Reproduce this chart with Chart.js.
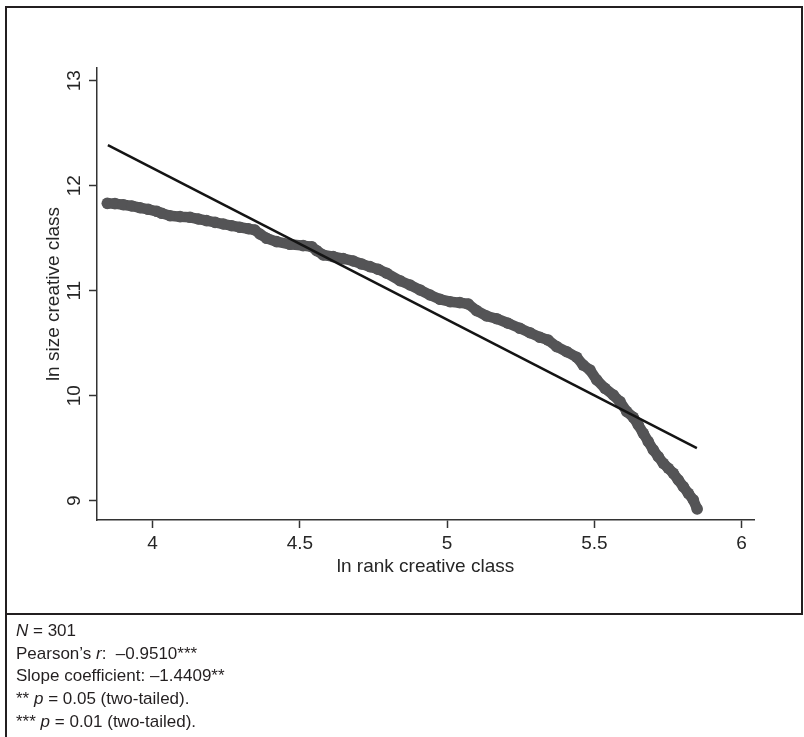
<!DOCTYPE html>
<html><head><meta charset="utf-8">
<script src="https://cdn.jsdelivr.net/npm/chart.js@4.4.1/dist/chart.umd.min.js"></script>
<style>
html,body{margin:0;padding:0;background:#fff;}
#wrap{position:relative;width:804px;height:737px;overflow:hidden;background:#fff;}
#c{position:absolute;left:0;top:0;}
.box{position:absolute;left:5px;top:6px;width:794px;height:605px;border:2px solid #231f20;}
.vline{position:absolute;left:5px;top:613px;width:2px;height:124px;background:#231f20;}
.notes{position:absolute;left:16px;top:620px;font-family:"Liberation Sans",Arial,sans-serif;font-size:17px;line-height:22.7px;color:#231f20;white-space:pre;}
</style></head>
<body>
<div id="wrap">
<canvas id="c" width="804" height="613"></canvas>
<div class="box"></div>
<div class="vline"></div>
<div class="notes"><i>N</i> = 301
Pearson’s <i>r</i>:  –0.9510***
Slope coefficient: –1.4409**
** <i>p</i> = 0.05 (two-tailed).
*** <i>p</i> = 0.01 (two-tailed).</div>
</div>
<script>
// ln rank creative class (x) and ln size creative class (y)
const lnRank = [3.846,3.872,3.900,3.929,3.957,3.985,4.014,4.031,4.059,4.093,4.127,4.155,4.183,4.212,4.240,4.268,4.296,4.325,4.347,4.364,4.387,4.421,4.466,4.511,4.540,4.557,4.579,4.613,4.647,4.681,4.710,4.738,4.766,4.795,4.840,4.874,4.908,4.942,4.976,5.010,5.043,5.072,5.100,5.134,5.168,5.207,5.247,5.281,5.315,5.343,5.372,5.406,5.440,5.462,5.485,5.508,5.536,5.564,5.587,5.610,5.632,5.649,5.666,5.683,5.700,5.717,5.734,5.751,5.768,5.785,5.802,5.819,5.836,5.849];
const lnSize = [11.832,11.829,11.819,11.807,11.790,11.775,11.756,11.737,11.714,11.705,11.699,11.683,11.667,11.651,11.635,11.619,11.604,11.590,11.578,11.540,11.499,11.467,11.442,11.429,11.419,11.381,11.340,11.324,11.305,11.283,11.254,11.229,11.204,11.166,11.095,11.054,11.007,10.959,10.918,10.895,10.886,10.873,10.810,10.759,10.733,10.690,10.642,10.600,10.556,10.530,10.467,10.419,10.366,10.292,10.245,10.150,10.070,10.007,9.943,9.848,9.794,9.721,9.642,9.562,9.483,9.419,9.356,9.309,9.261,9.197,9.133,9.070,9.007,8.921];
// fitted regression line end points
const fitRank = [3.848, 5.848];
const fitSize = [12.387, 9.500];
// tick values and labels
const xTicks = [4, 4.5, 5, 5.5, 6];
const xTickLabels = ['4', '4.5', '5', '5.5', '6'];
const yTicks = [9, 10, 11, 12, 13];
const yTickLabels = ['9', '10', '11', '12', '13'];
const xTitle = 'ln rank creative class';
const yTitle = 'ln size creative class';

const FONT = '"Liberation Sans", Arial, Helvetica, sans-serif';
const AX = '#333333';
const TXT = '#262626';
const DOT = '#545456';

const points = lnRank.map((x, i) => ({x: x, y: lnSize[i]}));
const fit = fitRank.map((x, i) => ({x: x, y: fitSize[i]}));

new Chart(document.getElementById('c'), {
  type: 'scatter',
  data: {
    datasets: [
      {
        data: fit, showLine: true, pointRadius: 0, borderColor: '#141414',
        borderWidth: 2.5, order: 0
      },
      {
        data: points, showLine: true, borderColor: DOT, borderWidth: 10.5,
        borderJoinStyle: 'round', borderCapStyle: 'round',
        pointRadius: 5.8, pointBorderWidth: 0, backgroundColor: DOT,
        pointBackgroundColor: DOT, order: 1
      }
    ]
  },
  options: {
    responsive: false, animation: false,
    layout: {padding: {top: 68, right: 50, left: 0, bottom: 0}},
    plugins: {legend: {display: false}, tooltip: {enabled: false}},
    scales: {
      x: {
        type: 'linear', min: 3.811, max: 6.042,
        afterBuildTicks: s => { s.ticks = xTicks.map(v => ({value: v})); },
        afterFit: s => { s.height = 93; },
        grid: {drawOnChartArea: false, drawTicks: true, tickLength: 8, tickColor: AX, tickWidth: 1.5},
        border: {display: true, color: AX, width: 1.5},
        ticks: {font: {family: FONT, size: 19}, color: TXT, padding: 4, maxRotation: 0, autoSkip: false,
          callback: (v, i) => xTickLabels[i]},
        title: {display: true, text: xTitle, font: {family: FONT, size: 19}, color: TXT, padding: {top: 0, bottom: 35}}
      },
      y: {
        type: 'linear', min: 8.816, max: 13.121,
        afterBuildTicks: s => { s.ticks = yTicks.map(v => ({value: v})); },
        afterFit: s => { s.width = 97; },
        grid: {drawOnChartArea: false, drawTicks: true, tickLength: 8, tickColor: AX, tickWidth: 1.5},
        border: {display: true, color: AX, width: 1.5},
        ticks: {font: {family: FONT, size: 19}, color: TXT, padding: 4, minRotation: 90, maxRotation: 90,
          crossAlign: 'center', autoSkip: false, callback: (v, i) => yTickLabels[i]},
        title: {display: true, text: yTitle, font: {family: FONT, size: 19}, color: TXT, padding: {top: 42, bottom: 0}}
      }
    }
  }
});
</script>
</body></html>
